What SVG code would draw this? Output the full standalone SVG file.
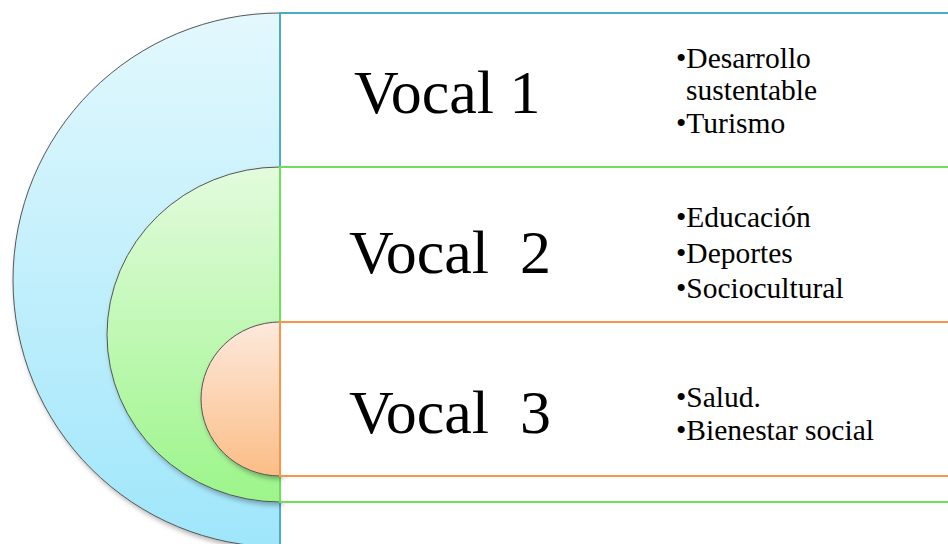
<svg xmlns="http://www.w3.org/2000/svg" width="948" height="544" viewBox="0 0 948 544">
<defs>
<linearGradient id="gBlue" x1="0" y1="0" x2="0" y2="1"><stop offset="0" stop-color="#e3f8fd"/><stop offset="1" stop-color="#9fe6fb"/></linearGradient>
<linearGradient id="gGreen" x1="0" y1="0" x2="0" y2="1"><stop offset="0" stop-color="#e3fbdd"/><stop offset="1" stop-color="#9cf58a"/></linearGradient>
<linearGradient id="gOrange" x1="0" y1="0" x2="0" y2="1"><stop offset="0" stop-color="#fde9dc"/><stop offset="1" stop-color="#fbbd86"/></linearGradient>
<filter id="shadow" x="-10%" y="-10%" width="130%" height="130%"><feDropShadow dx="2" dy="3" stdDeviation="2.5" flood-color="#000" flood-opacity="0.3"/></filter>
</defs>
<style>
.arc{stroke:#555;stroke-width:1;filter:url(#shadow)}
.box{fill:#fff;stroke-width:2}
</style>
<rect width="948" height="544" fill="#fff"/>
<g id="node-vocal1">
<path class="arc" d="M280,13 A267,267 0 0 0 280,547 Z" fill="url(#gBlue)"/>
<rect class="box" x="280" y="13" width="700" height="560" stroke="#4bacc6"/>
</g>
<g id="node-vocal2">
<path class="arc" d="M280,167 A173,167.5 0 0 0 280,502 Z" fill="url(#gGreen)"/>
<rect class="box" x="280" y="167" width="700" height="335" stroke="#6ddf58"/>
</g>
<g id="node-vocal3">
<path class="arc" d="M280,322 A79,77 0 0 0 280,476 Z" fill="url(#gOrange)"/>
<rect class="box" x="280" y="322" width="700" height="154" stroke="#f79646"/>
</g>
<g id="connectors"></g>
<g id="labels" font-family="'Liberation Serif', Tinos, 'Times New Roman', 'DejaVu Serif', serif" fill="#000">
<g font-size="62">
<text x="354" y="113">Vocal 1</text>
<text x="349" y="273" xml:space="preserve">Vocal  2</text>
<text x="349" y="433" xml:space="preserve">Vocal  3</text>
</g>
<g font-size="29.5">
<text x="676" y="68">•Desarrollo</text>
<text x="686" y="100">sustentable</text>
<text x="676" y="133">•Turismo</text>
<text x="676" y="227">•Educación</text>
<text x="676" y="263">•Deportes</text>
<text x="676" y="298">•Sociocultural</text>
<text x="676" y="407">•Salud.</text>
<text x="676" y="440">•Bienestar social</text>
</g>
</g>
</svg>
